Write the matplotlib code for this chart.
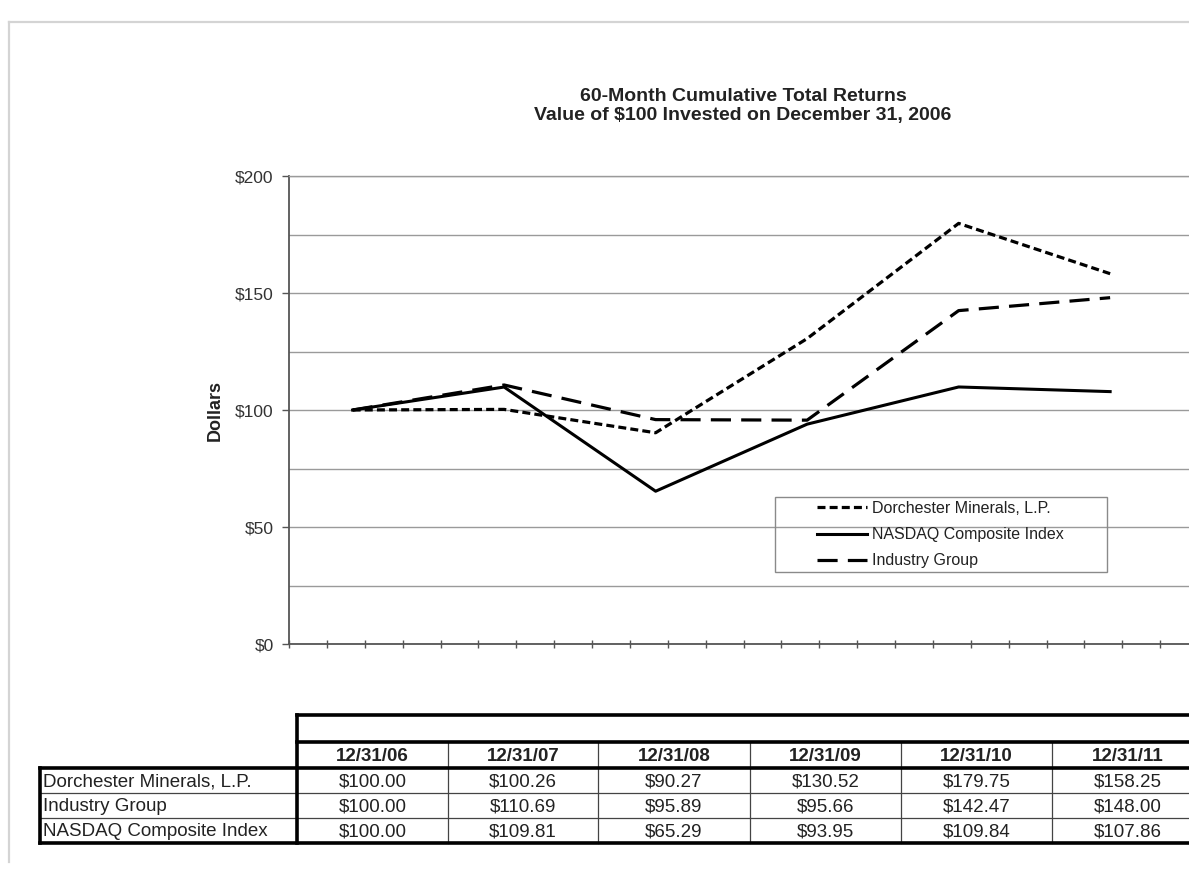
import matplotlib.pyplot as plt
import numpy as np
from matplotlib.patches import Rectangle

plt.rcParams['font.family'] = ['Liberation Sans', 'DejaVu Sans']

dates = ['12/31/06', '12/31/07', '12/31/08', '12/31/09', '12/31/10', '12/31/11']
dorchester = [100.00, 100.26, 90.27, 130.52, 179.75, 158.25]
industry = [100.00, 110.69, 95.89, 95.66, 142.47, 148.00]
nasdaq = [100.00, 109.81, 65.29, 93.95, 109.84, 107.86]
series_names = ['Dorchester Minerals, L.P.', 'Industry Group', 'NASDAQ Composite Index']
y_ticks = [0, 50, 100, 150, 200]

W, H = 1189, 871
fig = plt.figure(figsize=(W / 100, H / 100), dpi=100)

# chart area (pixel layout of the reference, axes run past the right edge)
px_year = 151.5
x_left = -0.42
x_right = 5.9
ax_l, ax_t, ax_b = 289, 176, 644
ax = fig.add_axes([ax_l / W, (H - ax_b) / H,
                   (x_right - x_left) * px_year / W, (ax_b - ax_t) / H])

x = np.arange(len(dates))
l_dor, = ax.plot(x, dorchester, color='black', lw=2.3,
                 linestyle=(0, (2.5, 1.3)), zorder=3)
l_nas, = ax.plot(x, nasdaq, color='black', lw=2.2, zorder=3)
l_ind, = ax.plot(x, industry, color='black', lw=2.3,
                 linestyle=(0, (6.3, 3.2)), zorder=3)

ax.set_xlim(x_left, x_right)
ax.set_ylim(0, 200)
ax.set_yticks(y_ticks)
ax.set_yticklabels(['$%d' % v for v in y_ticks])
ax.set_yticks(np.arange(0, 201, 25), minor=True)
ax.yaxis.grid(True, which='both', color='#9a9a9a', lw=1.0, zorder=1)
ax.set_xticks(np.arange(x_left, x_right, 0.25))
ax.set_xticklabels([])
ax.tick_params(axis='x', direction='inout', length=6, color='#555555', width=1.0)
ax.tick_params(axis='y', which='major', direction='out', length=5, color='#555555',
               width=1.0, labelsize=12.5, labelcolor='#333333', pad=6)
ax.tick_params(axis='y', which='minor', length=0)
for s in ['left', 'bottom']:
    ax.spines[s].set_color('#555555')
    ax.spines[s].set_linewidth(1.3)
ax.spines['top'].set_color('#9a9a9a')
ax.spines['top'].set_linewidth(1.0)
ax.spines['right'].set_visible(False)
ax.set_facecolor('none')

ax.set_ylabel('Dollars', fontsize=13, fontweight='bold', color='#222222', labelpad=8)

fig.text(743 / W, 1 - 106 / H, '60-Month Cumulative Total Returns\nValue of $100 Invested on December 31, 2006',
         ha='center', va='center', fontsize=14, fontweight='bold', color='#222222',
         linespacing=1.1)

ax.legend([l_dor, l_nas, l_ind], [series_names[0], series_names[2], series_names[1]],
          loc='upper left', bbox_to_anchor=(817 / W, 1 - 501 / H),
          bbox_transform=fig.transFigure, frameon=False, borderaxespad=0,
          borderpad=0, handlelength=3.1, handletextpad=0.35, labelspacing=0.7,
          prop={'size': 11.5}, labelcolor='#222222')

# overlay in pixel coordinates for the legend box, table and page border
ov = fig.add_axes([0, 0, 1, 1])
ov.set_xlim(0, W)
ov.set_ylim(H, 0)
ov.axis('off')
ov.add_patch(Rectangle((775, 497), 332, 75, fill=False, ec='#8a8a8a', lw=1.0))

# page border
ov.plot([9, W], [22, 22], color='#d4d4d4', lw=1.6)
ov.plot([9, 9], [22, 862], color='#d4d4d4', lw=1.6)

# table
col_edges = [297, 448, 598, 750, 901, 1052, 1203]
lab_l = 40
y_top, y_hdr, y_date = 715, 742, 768
row_h = 25
n_rows = 3
y_bot = y_date + row_h * n_rows
thick = dict(color='black', lw=2.6, solid_capstyle='projecting')
thin = dict(color='#444444', lw=0.9)

for k in range(1, n_rows):
    yy = y_date + k * row_h
    ov.plot([lab_l, W], [yy, yy], **thin)
for xe in col_edges[1:-1]:
    ov.plot([xe, xe], [y_hdr, y_bot], **thin)
ov.plot([col_edges[0], W], [y_top, y_top], **thick)
ov.plot([col_edges[0], W], [y_hdr, y_hdr], **thick)
ov.plot([lab_l, W], [y_date, y_date], **thick)
ov.plot([lab_l, W], [y_bot, y_bot], **thick)
ov.plot([col_edges[0], col_edges[0]], [y_top, y_bot], **thick)
ov.plot([lab_l, lab_l], [y_date, y_bot], **thick)

table_rows = [dorchester, industry, nasdaq]
for j, d in enumerate(dates):
    cx = (col_edges[j] + col_edges[j + 1]) / 2
    ov.text(cx, (y_hdr + y_date) / 2 + 1, d, ha='center', va='center',
            fontsize=13.5, fontweight='bold', color='#222222')
    for i, vals in enumerate(table_rows):
        ov.text(cx, y_date + (i + 0.5) * row_h + 1, '$%.2f' % vals[j], ha='center',
                va='center', fontsize=13.5, color='#222222')
for i, name in enumerate(series_names):
    ov.text(lab_l + 3, y_date + (i + 0.5) * row_h + 1, name, ha='left', va='center',
            fontsize=13.5, color='#222222')

fig.savefig('out.png', dpi=100)
